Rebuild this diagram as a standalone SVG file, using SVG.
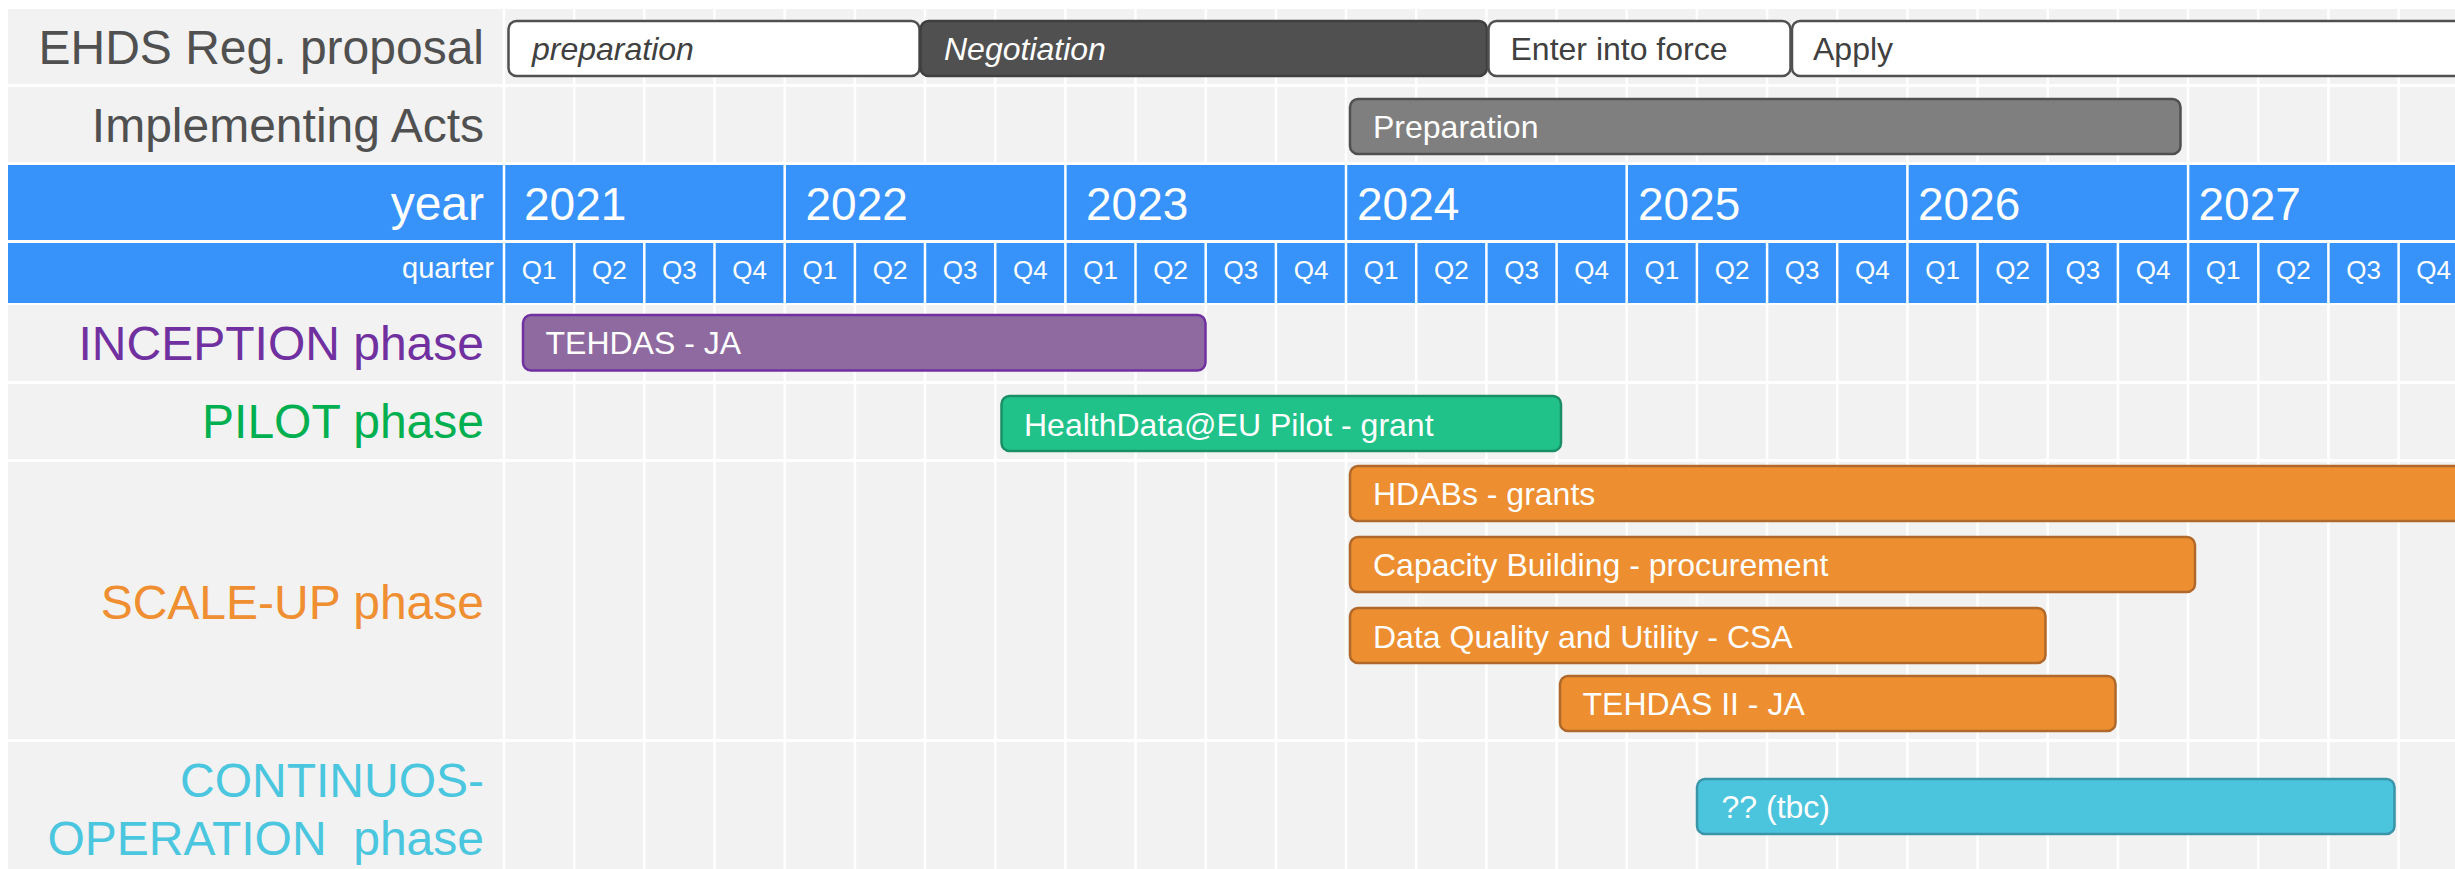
<svg xmlns="http://www.w3.org/2000/svg" width="2455" height="869" viewBox="0 0 2455 869">
<style>
text{font-family:"Liberation Sans",Arial,sans-serif}
.cell{fill:#f2f2f2}
.blue{fill:#3793f9}
.grid{stroke:#ffffff;stroke-width:2.5;fill:none}
.lbl{font-size:48px;text-anchor:end}
.gray{fill:#505050}
.wt{fill:#ffffff}
.yr{font-size:46px;fill:#ffffff}
.q{font-size:26px;fill:#ffffff;text-anchor:middle}
.bt{font-size:32px;fill:#ffffff}
.bar{stroke-width:2.5}
.white{fill:#ffffff;stroke:#505050}
.dark{fill:#505050;stroke:#3f3f3f}
.mid{fill:#7f7f7f;stroke:#505050}
.purple{fill:#8f6aa0;stroke:#7030a0}
.green{fill:#20c28a;stroke:#1a8f65}
.orange{fill:#ed8e30;stroke:#b0692a}
.cyan{fill:#4bc4dd;stroke:#3a95a8}
</style>
<rect x="0" y="0" width="2455" height="869" fill="#ffffff"/>
<g id="background">
<rect class="cell" x="8" y="9" width="2447" height="75"/>
<rect class="cell" x="8" y="87" width="2447" height="75"/>
<rect class="blue" x="8" y="165" width="2447" height="75"/>
<rect class="blue" x="8" y="243" width="2447" height="60"/>
<rect class="cell" x="8" y="305" width="2447" height="76"/>
<rect class="cell" x="8" y="384" width="2447" height="75"/>
<rect class="cell" x="8" y="462" width="2447" height="277"/>
<rect class="cell" x="8" y="742" width="2447" height="127"/>
</g>
<g id="grid">
<path class="grid" d="M504 9V869 M784.7 9V869 M1065.4 9V869 M1346 9V869 M1626.7 9V869 M1907.4 9V869 M2188.1 9V869 M2468.8 9V869"/>
<path class="grid" d="M574.2 9V165M574.2 240V869 M644.3 9V165M644.3 240V869 M714.5 9V165M714.5 240V869 M854.9 9V165M854.9 240V869 M925 9V165M925 240V869 M995.2 9V165M995.2 240V869 M1135.5 9V165M1135.5 240V869 M1205.7 9V165M1205.7 240V869 M1275.9 9V165M1275.9 240V869 M1416.2 9V165M1416.2 240V869 M1486.4 9V165M1486.4 240V869 M1556.6 9V165M1556.6 240V869 M1696.9 9V165M1696.9 240V869 M1767.1 9V165M1767.1 240V869 M1837.2 9V165M1837.2 240V869 M1977.6 9V165M1977.6 240V869 M2047.7 9V165M2047.7 240V869 M2117.9 9V165M2117.9 240V869 M2258.3 9V165M2258.3 240V869 M2328.4 9V165M2328.4 240V869 M2398.6 9V165M2398.6 240V869"/>
</g>
<g id="row-labels">
<text class="lbl gray" x="484" y="64">EHDS Reg. proposal</text>
<text class="lbl gray" x="484" y="142">Implementing Acts</text>
<text class="lbl wt" x="484" y="220">year</text>
<text class="wt" x="494" y="278" font-size="29" text-anchor="end">quarter</text>
<text class="lbl" x="484" y="360" fill="#7030a0">INCEPTION phase</text>
<text class="lbl" x="484" y="438" fill="#00b050">PILOT phase</text>
<text class="lbl" x="484" y="619" fill="#ef8f32">SCALE-UP phase</text>
<text class="lbl" x="484" y="797" fill="#4bc6df">CONTINUOS-</text>
<text class="lbl" x="484" y="855" fill="#4bc6df" xml:space="preserve">OPERATION  phase</text>
</g>
<g id="years">
<text class="yr" x="524" y="220">2021</text>
<text class="yr" x="805.5" y="220">2022</text>
<text class="yr" x="1086" y="220">2023</text>
<text class="yr" x="1357" y="220">2024</text>
<text class="yr" x="1638" y="220">2025</text>
<text class="yr" x="1918" y="220">2026</text>
<text class="yr" x="2198.5" y="220">2027</text>
</g>
<g id="quarters">
<text class="q" x="539.1" y="279">Q1</text><text class="q" x="609.3" y="279">Q2</text><text class="q" x="679.4" y="279">Q3</text><text class="q" x="749.6" y="279">Q4</text>
<text class="q" x="819.8" y="279">Q1</text><text class="q" x="890" y="279">Q2</text><text class="q" x="960.1" y="279">Q3</text><text class="q" x="1030.3" y="279">Q4</text>
<text class="q" x="1100.5" y="279">Q1</text><text class="q" x="1170.6" y="279">Q2</text><text class="q" x="1240.8" y="279">Q3</text><text class="q" x="1311" y="279">Q4</text>
<text class="q" x="1381.1" y="279">Q1</text><text class="q" x="1451.3" y="279">Q2</text><text class="q" x="1521.5" y="279">Q3</text><text class="q" x="1591.7" y="279">Q4</text>
<text class="q" x="1661.8" y="279">Q1</text><text class="q" x="1732" y="279">Q2</text><text class="q" x="1802.2" y="279">Q3</text><text class="q" x="1872.3" y="279">Q4</text>
<text class="q" x="1942.5" y="279">Q1</text><text class="q" x="2012.7" y="279">Q2</text><text class="q" x="2082.8" y="279">Q3</text><text class="q" x="2153" y="279">Q4</text>
<text class="q" x="2223.2" y="279">Q1</text><text class="q" x="2293.4" y="279">Q2</text><text class="q" x="2363.5" y="279">Q3</text><text class="q" x="2433.7" y="279">Q4</text>
</g>
<g id="connectors"/>
<g id="ehds-preparation">
<rect class="bar white" x="508.5" y="21" width="411" height="55" rx="8"/>
<text x="532" y="60" font-size="32" font-style="italic" fill="#404040">preparation</text>
</g>
<g id="ehds-negotiation">
<rect class="bar dark" x="920.5" y="21" width="566.5" height="55" rx="8"/>
<text x="944" y="60" font-size="32" font-style="italic" fill="#ffffff">Negotiation</text>
</g>
<g id="ehds-enter-into-force">
<rect class="bar white" x="1488.5" y="21" width="302" height="55" rx="8"/>
<text x="1510.5" y="60" font-size="32" fill="#404040">Enter into force</text>
</g>
<g id="ehds-apply">
<rect class="bar white" x="1792" y="21" width="700" height="55" rx="8"/>
<text x="1813" y="60" font-size="32" fill="#404040">Apply</text>
</g>
<g id="ia-preparation">
<rect class="bar mid" x="1350" y="99" width="830.5" height="55" rx="8"/>
<text class="bt" x="1373" y="138">Preparation</text>
</g>
<g id="tehdas-ja">
<rect class="bar purple" x="523" y="315" width="682.5" height="55.5" rx="8"/>
<text class="bt" x="545.5" y="354">TEHDAS - JA</text>
</g>
<g id="healthdata-pilot">
<rect class="bar green" x="1001.5" y="396" width="559.5" height="55" rx="8"/>
<text class="bt" x="1024" y="436">HealthData@EU Pilot - grant</text>
</g>
<g id="hdabs-grants">
<rect class="bar orange" x="1350" y="466" width="1140" height="55" rx="8"/>
<text class="bt" x="1373" y="505">HDABs - grants</text>
</g>
<g id="capacity-building">
<rect class="bar orange" x="1350" y="537" width="845" height="55" rx="8"/>
<text class="bt" x="1373" y="576">Capacity Building - procurement</text>
</g>
<g id="data-quality">
<rect class="bar orange" x="1350" y="608" width="695.5" height="55" rx="8"/>
<text class="bt" x="1373" y="648">Data Quality and Utility - CSA</text>
</g>
<g id="tehdas-ii">
<rect class="bar orange" x="1560" y="676" width="555.5" height="55" rx="8"/>
<text class="bt" x="1582.5" y="714.5">TEHDAS II - JA</text>
</g>
<g id="continuous-tbc">
<rect class="bar cyan" x="1697" y="779" width="697.5" height="55" rx="8"/>
<text class="bt" x="1721.5" y="818">?? (tbc)</text>
</g>
</svg>
